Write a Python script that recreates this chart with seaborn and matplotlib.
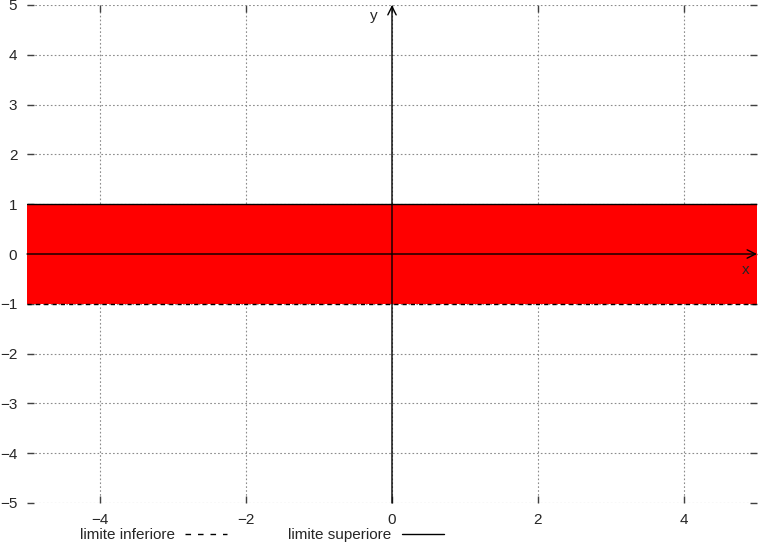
import matplotlib
matplotlib.use("Agg")
import matplotlib.pyplot as plt
import seaborn as sns
import numpy as np
import pandas as pd

x_range = [-5, 5]
lower_limit = [-1, -1]
upper_limit = [1, 1]
x_ticks = [-4, -2, 0, 2, 4]
y_ticks = [-5, -4, -3, -2, -1, 0, 1, 2, 3, 4, 5]
labels = ["limite inferiore", "limite superiore"]

sns.set_style("white")
plt.rcParams['font.family'] = ['Liberation Sans', 'DejaVu Sans']

fig = plt.figure(figsize=(7.58, 5.44), dpi=100)
ax = fig.add_axes([27/758, 41/544, 730/758, 498/544])

ax.fill_between(x_range, lower_limit, upper_limit, color="#ff0000", lw=0, zorder=1)

df_low = pd.DataFrame({"x": x_range, "y": lower_limit})
df_up = pd.DataFrame({"x": x_range, "y": upper_limit})
sns.lineplot(data=df_low, x="x", y="y", ax=ax, color="black", lw=1.0,
             linestyle=(0, (3, 3)), label=labels[0], zorder=3)
sns.lineplot(data=df_up, x="x", y="y", ax=ax, color="black", lw=1.0,
             label=labels[1], zorder=3)

ax.set_xlim(-5, 5)
ax.set_ylim(-5, 5)
ax.set_xticks(x_ticks)
ax.set_yticks(y_ticks)
ax.set_xticklabels([f"\u2212{abs(t)}" if t < 0 else str(t) for t in x_ticks])
ax.set_yticklabels([f"\u2212{abs(t)}" if t < 0 else str(t) for t in y_ticks])
ax.set_xlabel("")
ax.set_ylabel("")
ax.grid(True, color="#8c8c8c", linestyle=(0, (1.5, 2)), lw=0.8)
ax.tick_params(direction="in", length=5, width=1, color="#404040",
               left=True, bottom=True, top=True, right=True, labelsize=11, pad=7)
for s in ax.spines.values():
    s.set_visible(False)

# axes arrows
ax.annotate("", xy=(5, 0), xytext=(-5, 0),
            arrowprops=dict(arrowstyle="->", color="black", lw=1, shrinkA=0, shrinkB=0,
                            mutation_scale=15), zorder=4)
ax.annotate("", xy=(0, 5), xytext=(0, -5),
            arrowprops=dict(arrowstyle="->", color="black", lw=1, shrinkA=0, shrinkB=0,
                            mutation_scale=15), zorder=4)
ax.text(4.84, -0.32, "x", fontsize=11, ha="center", va="center")
ax.text(-0.25, 4.78, "y", fontsize=11, ha="center", va="center")

leg = ax.legend(loc="upper center", bbox_to_anchor=(0.322, -0.038), ncol=2,
                frameon=False, markerfirst=False, fontsize=11,
                handlelength=2.8, columnspacing=4.0, handletextpad=0.65,
                borderaxespad=0)
leg.get_lines()[0].set_linestyle((0, (4, 5)))

fig.savefig("out.png", dpi=100)
